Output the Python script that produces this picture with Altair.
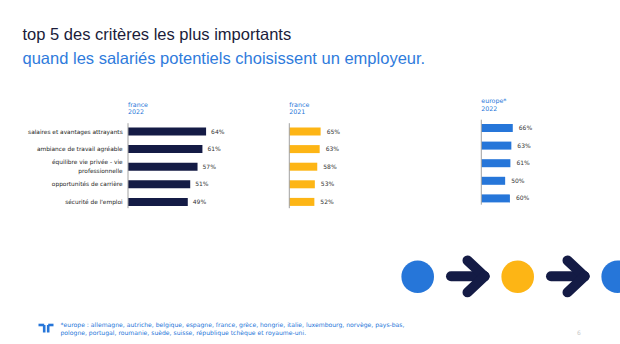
import altair as alt
import pandas as pd

# ---- data ----
categories = [
    "salaires et avantages attrayants",
    "ambiance de travail agréable",
    "équilibre vie privée - vie professionnelle",
    "opportunités de carrière",
    "sécurité de l'emploi",
]
category_labels = [
    "salaires et avantages attrayants",
    "ambiance de travail agréable",
    "équilibre vie privée - vie\nprofessionnelle",
    "opportunités de carrière",
    "sécurité de l'emploi",
]
label_lines = [1, 1, 2, 1, 1]
france_2022 = [64, 61, 57, 51, 49]
france_2021 = [65, 63, 58, 53, 52]
europe_2022 = [66, 63, 61, 50, 60]

title_line1 = "top 5 des critères les plus importants"
title_line2 = "quand les salariés potentiels choisissent un employeur."
panel_headers = [("france", "2022"), ("france", "2021"), ("europe*", "2022")]
footnote = [
    "*europe : allemagne, autriche, belgique, espagne, france, grèce, hongrie, italie, luxembourg, norvège, pays-bas,",
    "pologne, portugal, roumanie, suède, suisse, république tchèque et royaume-uni.",
]
page_number = "6"

NAVY = "#141b45"
BLUE = "#2676d9"
YELLOW = "#fdb515"
FONT = "DejaVu Sans"

# ---- panels ----
panels = [
    dict(values=france_2022, color=NAVY, x0=128, pxper=1.22, ytop=122.7, dx=5, header=panel_headers[0], labels=True),
    dict(values=france_2021, color=YELLOW, x0=289.3, pxper=0.482, ytop=122.7, dx=6, header=panel_headers[1], labels=False),
    dict(values=europe_2022, color=BLUE, x0=481.3, pxper=0.477, ytop=119.2, dx=6, header=panel_headers[2], labels=False),
]

layers = []
for p in panels:
    df = pd.DataFrame({"cat": categories, "label": category_labels, "lines": label_lines, "v": p["values"]})
    df["txt"] = df["v"].astype(str) + "%"
    xs = alt.Scale(domain=[0, 100], range=[p["x0"], p["x0"] + 100 * p["pxper"]])
    ys = alt.Scale(domain=categories, range=[p["ytop"], p["ytop"] + 88],
                   paddingInner=0.545, paddingOuter=0.2725)
    base = alt.Chart(df)
    bars = base.mark_bar(color=p["color"]).encode(
        x=alt.X("v:Q", scale=xs, axis=None),
        y=alt.Y("cat:N", scale=ys, axis=None, sort=categories),
    )
    vals = base.mark_text(align="left", baseline="middle", dx=p["dx"], font=FONT,
                          fontSize=6, color="#333333").encode(
        x=alt.X("v:Q", scale=xs, axis=None),
        y=alt.Y("cat:N", scale=ys, axis=None, sort=categories),
        text="txt:N",
    )
    axis_line = alt.Chart(pd.DataFrame({"a": [0]})).mark_rule(color="#a0a0a0", strokeWidth=1).encode(
        x=alt.value(p["x0"]), y=alt.value(p["ytop"] + 0.5), y2=alt.value(p["ytop"] + 85.5)
    )
    hdr = alt.Chart(pd.DataFrame({"t": [p["header"][0] + "\n" + p["header"][1]]})).mark_text(
        align="left", baseline="middle", font=FONT, fontSize=6.3, color=BLUE, lineBreak="\n", lineHeight=7.7
    ).encode(x=alt.value(p["x0"]), y=alt.value(p["ytop"] - 18.2), text="t:N")
    layers += [bars, vals, axis_line, hdr]
    if p["labels"]:
        for nl, dy in [(1, 0), (2, -4.65)]:
            labs = base.transform_filter(alt.datum.lines == nl).mark_text(
                align="right", baseline="middle", font=FONT, fontSize=5.85,
                color="#222222", lineBreak="\n", lineHeight=9.3, dy=dy).encode(
                x=alt.value(p["x0"] - 5.3),
                y=alt.Y("cat:N", scale=ys, axis=None, sort=categories),
                text="label:N",
            )
            layers.append(labs)

# ---- titles ----
t1 = alt.Chart(pd.DataFrame({"t": [title_line1]})).mark_text(
    align="left", baseline="alphabetic", font="Liberation Sans", fontSize=16.5, color="#1b1c3a"
).encode(x=alt.value(22.5), y=alt.value(39.5), text="t:N")
t2 = alt.Chart(pd.DataFrame({"t": [title_line2]})).mark_text(
    align="left", baseline="alphabetic", font="Liberation Sans", fontSize=16.5, color="#2f7bdc"
).encode(x=alt.value(22.5), y=alt.value(63.5), text="t:N")
layers += [t1, t2]

# ---- footer ----
foot = alt.Chart(pd.DataFrame({"t": ["\n".join(footnote)]})).mark_text(
    align="left", baseline="middle", font=FONT, fontSize=6.1, color=BLUE, lineBreak="\n", lineHeight=7.5
).encode(x=alt.value(60.5), y=alt.value(325), text="t:N")
pg = alt.Chart(pd.DataFrame({"t": [page_number]})).mark_text(
    align="left", baseline="middle", font=FONT, fontSize=6, color="#c8c8c8"
).encode(x=alt.value(577), y=alt.value(333), text="t:N")
layers += [foot, pg]

# logo (simple strokes)
logo_segments = [
    (38.5, 325, 44.2, 325), (44.2, 325, 44.2, 332.5),
    (48.2, 325, 53.5, 325), (48.2, 325, 48.2, 332.5),
]
for (xa, ya, xb, yb) in logo_segments:
    layers.append(alt.Chart(pd.DataFrame({"a": [0]})).mark_rule(color=BLUE, strokeWidth=2.6).encode(
        x=alt.value(xa), y=alt.value(ya), x2=alt.value(xb), y2=alt.value(yb)))

# ---- decorative circles and arrows ----
circle_x = [417.7, 517.7, 617.7]
circle_colors = [BLUE, YELLOW, BLUE]
for cx, col in zip(circle_x, circle_colors):
    layers.append(alt.Chart(pd.DataFrame({"a": [0]})).mark_point(
        shape="circle", filled=True, color=col, opacity=1, size=3.1416 * 18.4 ** 2
    ).encode(x=alt.value(cx), y=alt.value(276.7)))

for ax in [446, 546]:
    segs = [
        (ax + 5, 276.3, ax + 38.5, 276.3),
        (ax + 21.5, 260.5, ax + 38.5, 276.3),
        (ax + 21.5, 292.3, ax + 38.5, 276.3),
    ]
    for (xa, ya, xb, yb) in segs:
        layers.append(alt.Chart(pd.DataFrame({"a": [0]})).mark_rule(
            color=NAVY, strokeWidth=10, strokeCap="round"
        ).encode(x=alt.value(xa), y=alt.value(ya), x2=alt.value(xb), y2=alt.value(yb)))

chart = alt.layer(*layers).resolve_scale(x="independent", y="independent").properties(
    width=620, height=344, autosize=alt.AutoSizeParams(type="none"), padding=0
).configure_view(stroke=None)

chart.save("out.html", embed_options={"renderer": "svg", "actions": False})
